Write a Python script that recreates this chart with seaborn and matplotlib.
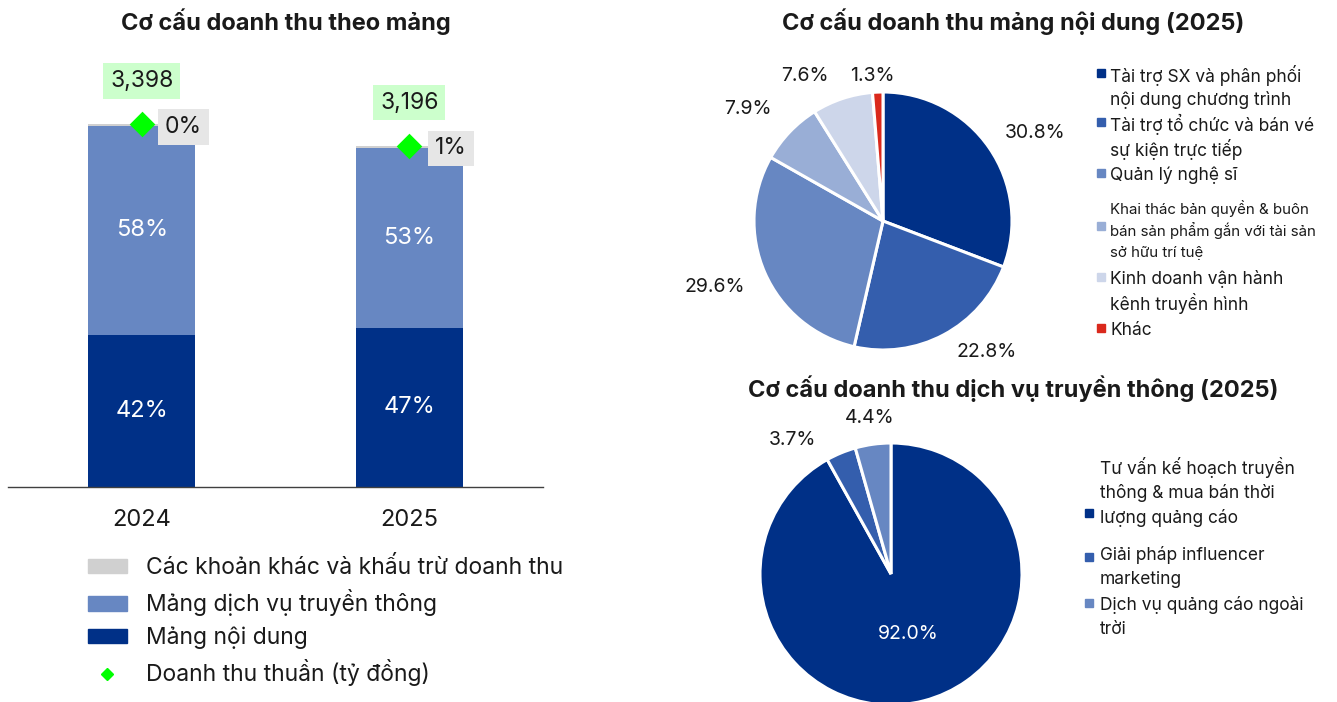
import numpy as np
import matplotlib
matplotlib.use("Agg")
import matplotlib.pyplot as plt
import seaborn as sns
import pandas as pd
from matplotlib.patches import Patch, Rectangle
from matplotlib.lines import Line2D

# ---------------- data ----------------
years = ["2024", "2025"]
revenue = [3398, 3196]                 # Doanh thu thuần (tỷ đồng)
share_content = [41.9, 46.6]           # Mảng nội dung (%)
share_media = [57.6, 52.6]             # Mảng dịch vụ truyền thông (%)
share_other = [0.5, 0.8]               # Các khoản khác (%)

seg_names = ["Các khoản khác và khấu trừ doanh thu",
             "Mảng dịch vụ truyền thông",
             "Mảng nội dung"]
rev_name = "Doanh thu thuần (tỷ đồng)"

content_labels = ["Tài trợ SX và phân phối\nnội dung chương trình",
                  "Tài trợ tổ chức và bán vé\nsự kiện trực tiếp",
                  "Quản lý nghệ sĩ",
                  "Khai thác bản quyền & buôn\nbán sản phẩm gắn với tài sản\nsở hữu trí tuệ",
                  "Kinh doanh vận hành\nkênh truyền hình",
                  "Khác"]
content_values = [30.8, 22.8, 29.6, 7.9, 7.6, 1.3]

media_labels = ["Tư vấn kế hoạch truyền\nthông & mua bán thời\nlượng quảng cáo",
                "Giải pháp influencer\nmarketing",
                "Dịch vụ quảng cáo ngoài\ntrời"]
media_values = [92.0, 3.7, 4.4]

title_left = "Cơ cấu doanh thu theo mảng"
title_pie1 = "Cơ cấu doanh thu mảng nội dung (2025)"
title_pie2 = "Cơ cấu doanh thu dịch vụ truyền thông (2025)"

# ---------------- style ----------------
sns.set_style("white")
plt.rcParams['font.family'] = ['Inter', 'DejaVu Sans']
NAVY = "#003087"
MID = "#345EAD"
LIGHT = "#6787C2"
LIGHT2 = "#99AED6"
LIGHT3 = "#CDD6EA"
RED = "#DA291C"
GRAY = "#D0D0D0"
GREEN = "#00FF00"
TXT = "#1a1a1a"

W, H = 1337, 702
fig = plt.figure(figsize=(W / 100, H / 100), dpi=100)


def px_axes(x0, y0, x1, y1):
    return fig.add_axes([x0 / W, 1 - y1 / H, (x1 - x0) / W, (y1 - y0) / H])


# ---------------- stacked bar ----------------
df = pd.DataFrame({"year": years, "rev": revenue})
df["content"] = df["rev"] * np.array(share_content) / 100
df["media"] = df["rev"] * np.array(share_media) / 100
df["other"] = df["rev"] * np.array(share_other) / 100
df["cm"] = df["content"] + df["media"]
df["total"] = df["cm"] + df["other"]

ax = px_axes(8, 40, 543, 487)
sns.barplot(data=df, x="year", y="total", color=GRAY, width=0.4, saturation=1,
            errorbar=None, ax=ax, linewidth=0)
sns.barplot(data=df, x="year", y="cm", color=LIGHT, width=0.4, saturation=1,
            errorbar=None, ax=ax, linewidth=0)
sns.barplot(data=df, x="year", y="content", color=NAVY, width=0.4, saturation=1,
            errorbar=None, ax=ax, linewidth=0)
xs = np.arange(len(years))
ax.scatter(xs, df["rev"], marker="D", s=170, color=GREEN, zorder=6, linewidths=0)
ax.set_xlim(-0.5, 1.5)
ax.set_ylim(0, 447 / 0.1068)
for s in ["top", "left", "right"]:
    ax.spines[s].set_visible(False)
ax.spines["bottom"].set_color("#404040")
ax.spines["bottom"].set_linewidth(1.0)
ax.set_yticks([])
ax.set_xlabel("")
ax.set_ylabel("")
ax.tick_params(axis="x", length=0, pad=16, labelsize=17, labelcolor=TXT)

for i in range(len(years)):
    c, m = df["content"][i], df["media"][i]
    ax.text(i, c / 2, f"{share_content[i]:.0f}%", ha="center", va="center",
            color="white", fontsize=17)
    ax.text(i, c + m / 2, f"{share_media[i]:.0f}%", ha="center", va="center",
            color="white", fontsize=17)
    ax.annotate(f"{revenue[i]:,}", xy=(i, revenue[i]), xytext=(0, 31),
                textcoords="offset points", ha="center", va="center",
                fontsize=16.5, color=TXT,
                bbox=dict(boxstyle="square,pad=0.3", fc="#CCFFCC", ec="none"))
    ax.annotate(f"{share_other[i]:.0f}%", xy=(i, revenue[i]), xytext=(30, -2),
                textcoords="offset points", ha="center", va="center",
                fontsize=16.5, color=TXT,
                bbox=dict(boxstyle="square,pad=0.3", fc="#E6E6E6", ec="none"))

fig.text(286 / W, 1 - 22 / H, title_left, ha="center", va="center",
         fontsize=17, fontweight="bold", color=TXT)

handles = [Patch(color=GRAY), Patch(color=LIGHT), Patch(color=NAVY),
           Line2D([], [], marker="D", ls="none", color=GREEN, markersize=6)]
fig.legend(handles, seg_names + [rev_name], loc="upper left",
           bbox_to_anchor=(88 / W, 1 - 557 / H), frameon=False, fontsize=16.5,
           handlelength=1.7, handleheight=0.62, handletextpad=0.85,
           labelspacing=0.45, borderpad=0, borderaxespad=0, labelcolor=TXT)


# ---------------- pies ----------------
def draw_pie(cx, cy, r, values, colors, dists, shifts, txtcolors):
    pax = px_axes(cx - r, cy - r, cx + r, cy + r)
    wedges, _, autotexts = pax.pie(
        values, colors=colors, startangle=90, counterclock=False,
        wedgeprops=dict(edgecolor="white", linewidth=2.2),
        autopct="%.1f%%", pctdistance=1.3,
        textprops=dict(fontsize=14, color=TXT))
    for w, t, v, d, sh, tc in zip(wedges, autotexts, values, dists, shifts, txtcolors):
        ang = np.deg2rad((w.theta1 + w.theta2) / 2 + sh)
        t.set_position((d * np.cos(ang), d * np.sin(ang)))
        t.set_text(f"{v:.1f}%")
        t.set_color(tc)
    pax.set_xlim(-1, 1)
    pax.set_ylim(-1, 1)
    return pax


draw_pie(883, 221, 129, content_values,
         [NAVY, MID, LIGHT, LIGHT2, LIGHT3, RED],
         [1.36, 1.30, 1.40, 1.36, 1.28, 1.13],
         [-4.6, 10.3, -2.4, 4.0, 10.0, 2.0],
         [TXT] * 6)
draw_pie(891, 574, 131, media_values,
         [NAVY, MID, LIGHT],
         [0.48, 1.27, 1.20],
         [1.5, 14.0, 0.0],
         ["white", TXT, TXT])

fig.text(1013 / W, 1 - 22 / H, title_pie1, ha="center", va="center",
         fontsize=17, fontweight="bold", color=TXT)
fig.text(1013 / W, 1 - 389 / H, title_pie2, ha="center", va="center",
         fontsize=17, fontweight="bold", color=TXT)


# legend helper for the pies: square key + wrapped label lines (layout in px)
def key_legend(labels, colors, key_x, text_x, first_ys, key_ys, pitches, sizes):
    for lab, col, fy, ky, p, fs in zip(labels, colors, first_ys, key_ys, pitches, sizes):
        fig.patches.append(Rectangle(((key_x) / W, 1 - (ky + 4) / H), 8 / W, 8 / H,
                                     transform=fig.transFigure, color=col,
                                     figure=fig))
        for k, line in enumerate(lab.split("\n")):
            fig.text(text_x / W, 1 - (fy + k * p) / H, line, ha="left",
                     va="center_baseline", fontsize=fs, color=TXT)


key_legend(content_labels, [NAVY, MID, LIGHT, LIGHT2, LIGHT3, RED],
           1097, 1110,
           [73, 122, 173, 207, 277, 328],
           [73, 122, 173, 226, 277, 328],
           [25, 25, 25, 22, 25, 25],
           [12.5, 12.5, 12.5, 10.8, 12.5, 12.5])
key_legend(media_labels, [NAVY, MID, LIGHT],
           1085, 1100,
           [466, 553, 603],
           [513, 557, 603],
           [25, 25, 25],
           [12.5, 12.5, 12.5])

fig.savefig("out.png", dpi=100)
